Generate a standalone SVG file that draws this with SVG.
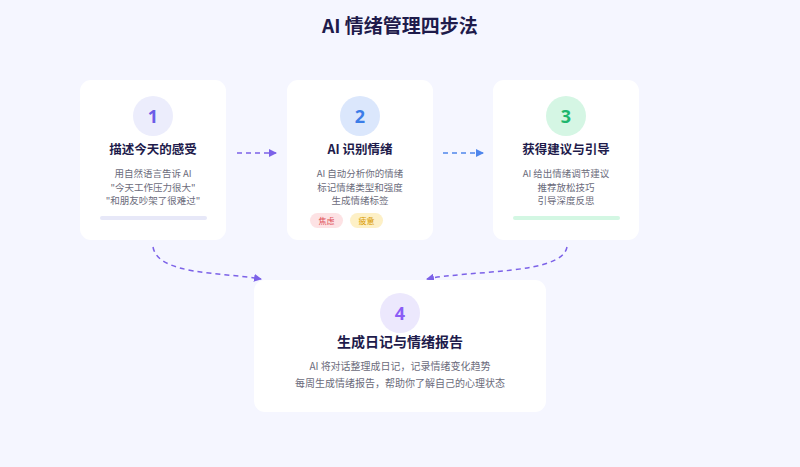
<svg xmlns="http://www.w3.org/2000/svg" width="800" height="467" viewBox="0 0 800 467">
<style>
.card{fill:#ffffff;}
.t{font-family:"Noto Sans CJK SC","Noto Sans",sans-serif;}
.title{font-size:19px;font-weight:700;fill:#1e1b4b;text-anchor:middle;}
.h{font-size:12.5px;font-weight:700;fill:#1e1b4b;text-anchor:middle;}
.h4{font-size:14px;font-weight:700;fill:#1e1b4b;text-anchor:middle;}
.b{font-size:9.5px;fill:#6b6b7b;text-anchor:middle;}
.b4{font-size:10px;fill:#6b6b7b;text-anchor:middle;}
.num{font-size:18px;font-weight:700;text-anchor:middle;font-family:"Noto Sans","Open Sans",sans-serif;}
.tag{font-size:8px;text-anchor:middle;}
.dash{fill:none;stroke-width:1.5;stroke-dasharray:5 4;}
</style>
<defs>
<marker id="ap" markerWidth="8" markerHeight="8" refX="7" refY="4" orient="auto" markerUnits="userSpaceOnUse"><path d="M0,0 L8,4 L0,8 Z" fill="#7c62e8"/></marker>
<marker id="ab" markerWidth="8" markerHeight="8" refX="7" refY="4" orient="auto" markerUnits="userSpaceOnUse"><path d="M0,0 L8,4 L0,8 Z" fill="#4f86ec"/></marker>
</defs>
<rect width="800" height="467" fill="#f5f6ff"/>
<text class="t title" x="400" y="33">AI 情绪管理四步法</text>

<g id="connectors">
<path class="dash" d="M237,153 L276,153" stroke="#7c62e8" marker-end="url(#ap)"/>
<path class="dash" d="M443,153 L483,153" stroke="#4f86ec" marker-end="url(#ab)"/>
<path class="dash" d="M153,247 C158,275 220,272 261,279" stroke="#7c62e8" marker-end="url(#ap)"/>
<path class="dash" d="M567,247 C562,275 470,270 427,279" stroke="#7c62e8" marker-end="url(#ap)"/>
</g>

<g id="step1">
<rect class="card" x="80" y="80" width="146" height="160" rx="11"/>
<circle cx="153" cy="116" r="20" fill="#ecedfc"/>
<text class="num" x="153" y="122.5" fill="#6c5ce7">1</text>
<text class="t h" x="153" y="154">描述今天的感受</text>
<text class="t b" x="153" y="177">用自然语言告诉 AI</text>
<text class="t b" x="153" y="190.5">"今天工作压力很大"</text>
<text class="t b" x="153" y="204">"和朋友吵架了很难过"</text>
<rect x="100" y="216" width="107" height="4" rx="2" fill="#e7e8f8"/>
</g>

<g id="step2">
<rect class="card" x="287" y="80" width="146" height="160" rx="11"/>
<circle cx="360" cy="116" r="20" fill="#dbe7fc"/>
<text class="num" x="360" y="122.5" fill="#3b7de8">2</text>
<text class="t h" x="360" y="154">AI 识别情绪</text>
<text class="t b" x="360" y="177">AI 自动分析你的情绪</text>
<text class="t b" x="360" y="190.5">标记情绪类型和强度</text>
<text class="t b" x="360" y="204">生成情绪标签</text>
<rect x="310" y="213" width="33" height="15" rx="7.5" fill="#fde2e4"/>
<text class="t tag" x="326.5" y="223.5" fill="#e0555b">焦虑</text>
<rect x="350" y="213" width="33" height="15" rx="7.5" fill="#fdf0c6"/>
<text class="t tag" x="366.5" y="223.5" fill="#d99a00">疲惫</text>
</g>

<g id="step3">
<rect class="card" x="493" y="80" width="146" height="160" rx="11"/>
<circle cx="566" cy="116" r="20" fill="#d5f6e4"/>
<text class="num" x="566" y="122.5" fill="#1fb66e">3</text>
<text class="t h" x="566" y="154">获得建议与引导</text>
<text class="t b" x="566" y="177">AI 给出情绪调节建议</text>
<text class="t b" x="566" y="190.5">推荐放松技巧</text>
<text class="t b" x="566" y="204">引导深度反思</text>
<rect x="513" y="216" width="107" height="4" rx="2" fill="#d3f7e3"/>
</g>

<g id="step4">
<rect class="card" x="254" y="280" width="292" height="132" rx="11"/>
<circle cx="400" cy="313" r="20" fill="#ece8fd"/>
<text class="num" x="400" y="319.5" fill="#8b5cf6">4</text>
<text class="t h4" x="400" y="347">生成日记与情绪报告</text>
<text class="t b4" x="400" y="370">AI 将对话整理成日记，记录情绪变化趋势</text>
<text class="t b4" x="400" y="387">每周生成情绪报告，帮助你了解自己的心理状态</text>
</g>
</svg>
